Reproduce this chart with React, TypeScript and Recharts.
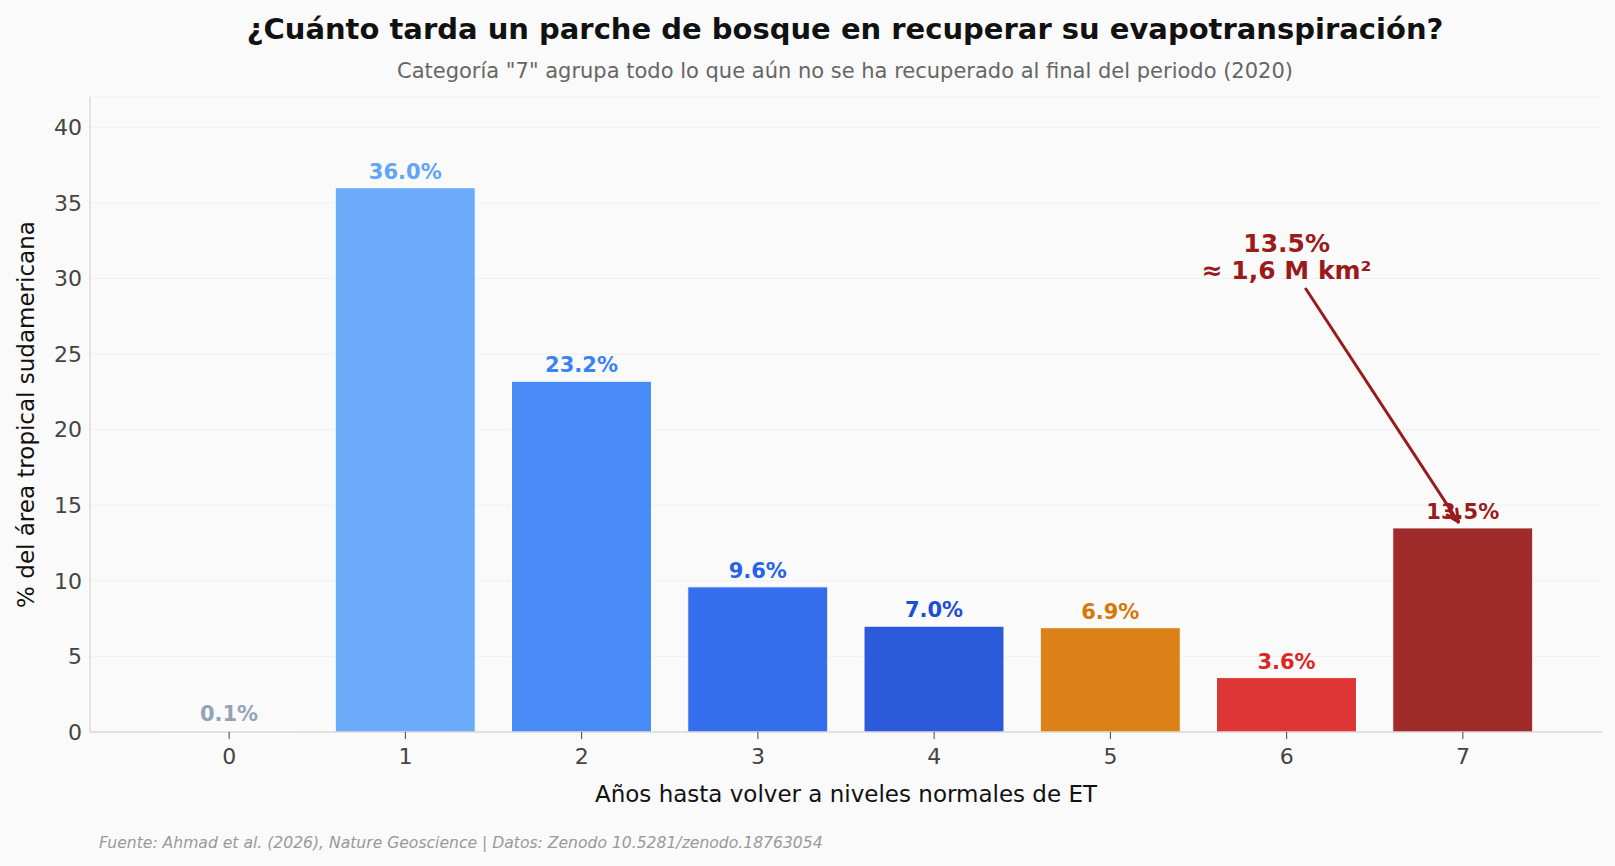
import React from "react";
import {
  BarChart,
  Bar,
  XAxis,
  YAxis,
  CartesianGrid,
  Cell,
  LabelList,
  Label,
  ReferenceLine,
  ReferenceDot,
} from "recharts";

// Years until ET returns to normal, share of tropical South American area
const years = ["0", "1", "2", "3", "4", "5", "6", "7"];
const positions = [0, 1, 2, 3, 4, 5, 6, 7];
const shares = [0.1, 36.0, 23.2, 9.6, 7.0, 6.9, 3.6, 13.5];
const barColors = ["#e2e8f0", "#60a5fa", "#3b82f6", "#2563eb", "#1d4ed8", "#d97706", "#dc2626", "#991b1b"];
const labelColors = ["#94a3b8", "#60a5fa", "#3b82f6", "#2563eb", "#1d4ed8", "#d97706", "#dc2626", "#991b1b"];
const yTicks = [0, 5, 10, 15, 20, 25, 30, 35, 40];

// callout for the last category
const calloutLines = ["13.5%", "≈ 1,6 M km²"];
const calloutAt = { x: "6", y: 31.4 };
const arrowFrom = { x: 6.11, y: 29.3 };
const arrowTo = { x: 6.975, y: 13.9 };

const data = years.map((y, i) => ({ year: y, pos: positions[i], share: shares[i] }));

const FONT = "'DejaVu Sans', sans-serif";
const W = 1615;
const H = 866;

const BarValue = (props: any) => {
  const { x, y, width, value, index } = props;
  return (
    <text
      x={x + width / 2}
      y={y - 9}
      textAnchor="middle"
      fontFamily={FONT}
      fontSize={21}
      fontWeight="bold"
      fill={labelColors[index]}
    >
      {value.toFixed(1)}%
    </text>
  );
};

const Arrow = (props: any) => {
  const { x1, y1, x2, y2 } = props;
  const ang = Math.atan2(y2 - y1, x2 - x1);
  const len = 13;
  const spread = 0.45;
  const a1 = ang + Math.PI - spread;
  const a2 = ang + Math.PI + spread;
  return (
    <g stroke="#991b1b" strokeWidth={3} fill="none" strokeLinecap="round">
      <line x1={x1} y1={y1} x2={x2} y2={y2} />
      <line x1={x2} y1={y2} x2={x2 + len * Math.cos(a1)} y2={y2 + len * Math.sin(a1)} />
      <line x1={x2} y1={y2} x2={x2 + len * Math.cos(a2)} y2={y2 + len * Math.sin(a2)} />
    </g>
  );
};

const Callout = (props: any) => {
  const { cx, cy } = props;
  return (
    <text
      x={cx}
      y={cy}
      textAnchor="middle"
      fontFamily={FONT}
      fontSize={25}
      fontWeight="bold"
      fill="#991b1b"
    >
      <tspan x={cx} dy={-13.5} dominantBaseline="central">{calloutLines[0]}</tspan>
      <tspan x={cx} dy={27} dominantBaseline="central">{calloutLines[1]}</tspan>
    </text>
  );
};

export default function App() {
  return (
    <div
      style={{
        position: "absolute",
        left: 0,
        top: 0,
        width: W,
        height: H,
        background: "#fafafa",
        fontFamily: FONT,
      }}
    >
      <BarChart
        width={W}
        height={H}
        data={data}
        margin={{ top: 97, right: 13, bottom: 0, left: 0 }}
      >
        <CartesianGrid vertical={false} stroke="#f0f0f0" strokeWidth={1} />
        <XAxis
          dataKey="year"
          height={134}
          padding={{ left: 51, right: 51 }}
          stroke="#cccccc"
          tickSize={7}
          tickMargin={9}
          tickLine={{ stroke: "#444" }}
          tick={{ fill: "#444", fontSize: 22, fontFamily: FONT }}
        >
          <Label
            content={(p: any) => {
              const vb = p.viewBox;
              return (
                <text
                  x={vb.x + vb.width / 2}
                  y={vb.y + 62}
                  textAnchor="middle"
                  dominantBaseline="central"
                  fontFamily={FONT}
                  fontSize={23}
                  fill="#111"
                >
                  Años hasta volver a niveles normales de ET
                </text>
              );
            }}
          />
        </XAxis>
        {/* continuous twin of the category axis, used to place the arrow */}
        <XAxis
          xAxisId="pos"
          dataKey="pos"
          type="number"
          domain={[-0.79, 7.79]}
          allowDataOverflow
          hide
        />
        <YAxis
          width={90}
          domain={[0, 42]}
          ticks={yTicks}
          allowDataOverflow
          stroke="#cccccc"
          tickLine={false}
          tickSize={0}
          tickMargin={8}
          tick={{ fill: "#444", fontSize: 22, fontFamily: FONT }}
        >
          <Label
            content={(p: any) => {
              const vb = p.viewBox;
              const cy = vb.y + vb.height / 2;
              return (
                <text
                  x={26}
                  y={cy}
                  transform={`rotate(-90 26 ${cy})`}
                  textAnchor="middle"
                  dominantBaseline="central"
                  fontFamily={FONT}
                  fontSize={23}
                  fill="#111"
                >
                  % del área tropical sudamericana
                </text>
              );
            }}
          />
        </YAxis>
        <Bar dataKey="share" barSize={140} isAnimationActive={false}>
          {data.map((d, i) => (
            <Cell key={d.year} fill={barColors[i]} fillOpacity={0.93} stroke="#ffffff" strokeWidth={1} />
          ))}
          <LabelList dataKey="share" content={BarValue} />
        </Bar>
        <ReferenceDot x={calloutAt.x} y={calloutAt.y} r={0} shape={Callout} />
        <ReferenceLine
          xAxisId="pos"
          segment={[arrowFrom, arrowTo]}
          ifOverflow="visible"
          shape={Arrow}
        />
      </BarChart>
      <svg
        width={W}
        height={H}
        style={{ position: "absolute", left: 0, top: 0, pointerEvents: "none" }}
      >
        <text x={845} y={29} textAnchor="middle" dominantBaseline="central" fontFamily={FONT} fontSize={29} fontWeight="bold" fill="#111">
          ¿Cuánto tarda un parche de bosque en recuperar su evapotranspiración?
        </text>
        <text x={845} y={71} textAnchor="middle" dominantBaseline="central" fontFamily={FONT} fontSize={21} fill="#666">
          Categoría "7" agrupa todo lo que aún no se ha recuperado al final del periodo (2020)
        </text>
        <text x={99} y={843} dominantBaseline="central" fontFamily={FONT} fontSize={15.6} fontStyle="italic" fill="#999">
          Fuente: Ahmad et al. (2026), Nature Geoscience | Datos: Zenodo 10.5281/zenodo.18763054
        </text>
      </svg>
    </div>
  );
}
